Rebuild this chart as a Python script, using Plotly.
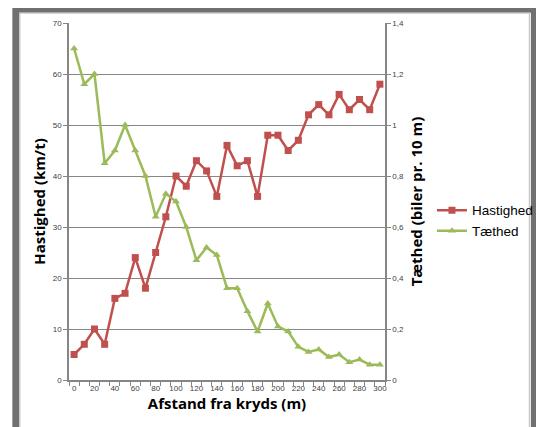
import plotly.graph_objects as go

afstand = list(range(0, 301, 10))
hastighed = [5, 7, 10, 7, 16, 17, 24, 18, 25, 32, 40, 38, 43, 41, 36, 46,
             42, 43, 36, 48, 48, 45, 47, 52, 54, 52, 56, 53, 55, 53, 58]
taethed = [1.30, 1.16, 1.20, 0.85, 0.90, 1.00, 0.90, 0.80, 0.64, 0.73, 0.70,
           0.60, 0.47, 0.52, 0.49, 0.36, 0.36, 0.27, 0.19, 0.30, 0.21, 0.19,
           0.13, 0.11, 0.12, 0.09, 0.10, 0.07, 0.08, 0.06, 0.06]
x_ticks = list(range(0, 301, 20))
y_left_ticks = list(range(0, 71, 10))
y_right_ticks = [0, 0.2, 0.4, 0.6, 0.8, 1.0, 1.2, 1.4]
y_right_labels = ["0", "0,2", "0,4", "0,6", "0,8", "1", "1,2", "1,4"]

OFF = 8  # page body margin
W, H = 544 - OFF, 427 - OFF
L, R, T, B = 68.7 - OFF, 385.0 - OFF, 23.3 - OFF, 380.0 - OFF
pw, ph = R - L, B - T

def px(x):
    return (x - OFF - L) / pw

def py(y):
    return (B - (y - OFF)) / ph

red = "#c0504d"
green = "#9bbb59"
axc = "#868686"
tickfont = dict(family="Liberation Sans, Arial", size=8, color="#404040")
titlefont = dict(family="Open Sans, Liberation Sans", size=15, color="#000000")

fig = go.Figure()
fig.add_trace(go.Scatter(x=afstand, y=hastighed, name="Hastighed", mode="lines+markers",
                         line=dict(color=red, width=2.5),
                         marker=dict(symbol="square", size=7, color=red)))
fig.add_trace(go.Scatter(x=afstand, y=taethed, name="Tæthed", mode="lines+markers", yaxis="y2",
                         line=dict(color=green, width=2.5),
                         marker=dict(symbol="triangle-up", size=7, color=green)))

shapes = [
    dict(type="rect", xref="paper", yref="paper",
         x0=px(15.5), x1=px(534.5), y0=py(470), y1=py(9.5),
         line=dict(color="#707070", width=7), layer="below"),
    dict(type="rect", xref="paper", yref="paper",
         x0=px(19.5), x1=px(529.5), y0=py(470), y1=py(13.5),
         line=dict(color="#c8c8c8", width=1.2), layer="below"),
]

fig.update_layout(
    width=W, height=H,
    margin=dict(l=L, r=W - R, t=T, b=H - B, autoexpand=False),
    paper_bgcolor="white", plot_bgcolor="white",
    showlegend=True,
    legend=dict(x=px(432), y=py(221), xanchor="left", yanchor="middle",
                font=dict(family="Liberation Sans, Arial", size=13.5, color="#000000"),
                itemwidth=30, tracegroupgap=2, bgcolor="rgba(0,0,0,0)"),
    xaxis=dict(range=[-5, 305], tickmode="array", tickvals=x_ticks, ticktext=[str(v) for v in x_ticks],
               ticks="", showgrid=False, zeroline=False,
               showline=True, linecolor=axc, linewidth=1.5, tickfont=tickfont,
               minor=dict(tick0=-5, dtick=10, ticks="outside", ticklen=4, tickcolor=axc, showgrid=False),
               title=dict(text="<b>Afstand fra kryds (m)</b>", font=titlefont, standoff=5)),
    yaxis=dict(range=[0, 70], tickmode="array", tickvals=y_left_ticks,
               ticks="outside", ticklen=4, tickcolor=axc, showgrid=True, gridcolor=axc, gridwidth=1,
               zeroline=False, showline=True, linecolor=axc, linewidth=1.5, tickfont=tickfont,
               title=dict(text="<b>Hastighed (km/t)</b>", font=titlefont, standoff=3)),
    yaxis2=dict(range=[0, 1.4], overlaying="y", side="right", tickmode="array",
                tickvals=y_right_ticks, ticktext=y_right_labels,
                ticks="outside", ticklen=4, tickcolor=axc, showgrid=False, zeroline=False,
                showline=True, linecolor=axc, linewidth=1.5, tickfont=tickfont,
                title=dict(text="<b>Tæthed (biler pr. 10 m)</b>", font=titlefont, standoff=8)),
    shapes=shapes,
)

fig.write_html("out.html")
